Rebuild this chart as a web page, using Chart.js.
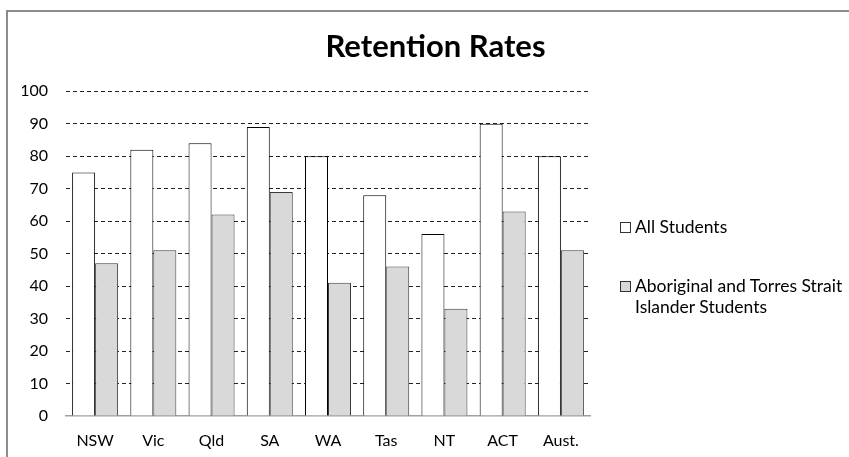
<!DOCTYPE html>
<html>
<head>
<meta charset="utf-8">
<script src="https://cdn.jsdelivr.net/npm/chart.js@4.4.1/dist/chart.umd.min.js"></script>
<style>
  body { margin: 0; background: #fff; }
  #frame { position: absolute; left: 6px; top: 10px; width: 900px; height: 500px; border: 2px solid #8c8c8c; }
  #wrap { position: absolute; left: 0; top: 0; width: 849px; height: 457px; }
  #legend { position: absolute; left: 620px; top: 216px; width: 228px; font-family: Lato, sans-serif; font-size: 17.5px; color: #000; line-height: 21px; }
  #legend .item { display: flex; align-items: flex-start; margin-bottom: 38px; }
  #legend .box { flex: none; width: 9px; height: 9px; border: 1px solid #333; margin: 6px 4px 0 0; }
</style>
</head>
<body>
<div id="frame"></div>
<div id="wrap"><canvas id="chart"></canvas></div>
<div id="legend"></div>
<script>
// data
const categories = ['NSW', 'Vic', 'Qld', 'SA', 'WA', 'Tas', 'NT', 'ACT', 'Aust.'];
const allStudents = [75, 82, 84, 89, 80, 68, 56, 90, 80];
const indigenousStudents = [47, 51, 62, 69, 41, 46, 33, 63, 51];
const seriesLabels = ['All Students', 'Aboriginal and Torres Strait Islander Students'];
const yTicks = [0, 10, 20, 30, 40, 50, 60, 70, 80, 90, 100];

const fontFamily = 'Lato, sans-serif';

const datasets = [
    { label: seriesLabels[0], data: allStudents, backgroundColor: '#ffffff', borderColor: '#000000', borderWidth: 1 },
    { label: seriesLabels[1], data: indigenousStudents, backgroundColor: '#d9d9d9', borderColor: '#3a3a3a', borderWidth: 1 }
];

const chart = new Chart(document.getElementById('chart'), {
    type: 'bar',
    data: { labels: categories, datasets: datasets },
    options: {
        responsive: true,
        maintainAspectRatio: false,
        animation: false,
        categoryPercentage: 0.79,
        barPercentage: 1.0,
        layout: { padding: { left: 22, right: 0, top: 0, bottom: 0 } },
        plugins: {
            legend: { display: false },
            tooltip: { enabled: false },
            title: {
                display: true,
                text: 'Retention Rates',
                color: '#000',
                font: { family: fontFamily, size: 31, weight: 'bold' },
                padding: { top: 28, bottom: 26 }
            }
        },
        scales: {
            x: {
                grid: { display: false, drawTicks: false },
                border: { display: true, color: '#a0a0a0', width: 1.5 },
                ticks: { color: '#000', padding: 15, font: { family: fontFamily, size: 16 } },
                afterFit(scale) { scale.height = 41; }
            },
            y: {
                min: 0,
                max: 100,
                afterBuildTicks(scale) { scale.ticks = yTicks.map(v => ({ value: v })); },
                grid: {
                    drawTicks: false,
                    color: ctx => (ctx.tick && ctx.tick.value === 0) ? 'rgba(0,0,0,0)' : '#222',
                    lineWidth: 1
                },
                border: { display: false, dash: [4, 3] },
                ticks: { color: '#000', padding: 18, font: { family: fontFamily, size: 16 } },
                afterFit(scale) { scale.width = 44; }
            },
            // empty axis on the right keeps room for the html legend
            legendSpace: {
                type: 'linear',
                position: 'right',
                display: true,
                grid: { display: false, drawTicks: false },
                border: { display: false },
                ticks: { display: false },
                afterFit(scale) { scale.width = 259; }
            }
        }
    }
});

// html legend with wrapping text, built from the datasets
const legendEl = document.getElementById('legend');
datasets.forEach(ds => {
    const item = document.createElement('div');
    item.className = 'item';
    const box = document.createElement('span');
    box.className = 'box';
    box.style.background = ds.backgroundColor;
    const text = document.createElement('span');
    text.textContent = ds.label;
    item.appendChild(box);
    item.appendChild(text);
    legendEl.appendChild(item);
});
</script>
</body>
</html>
